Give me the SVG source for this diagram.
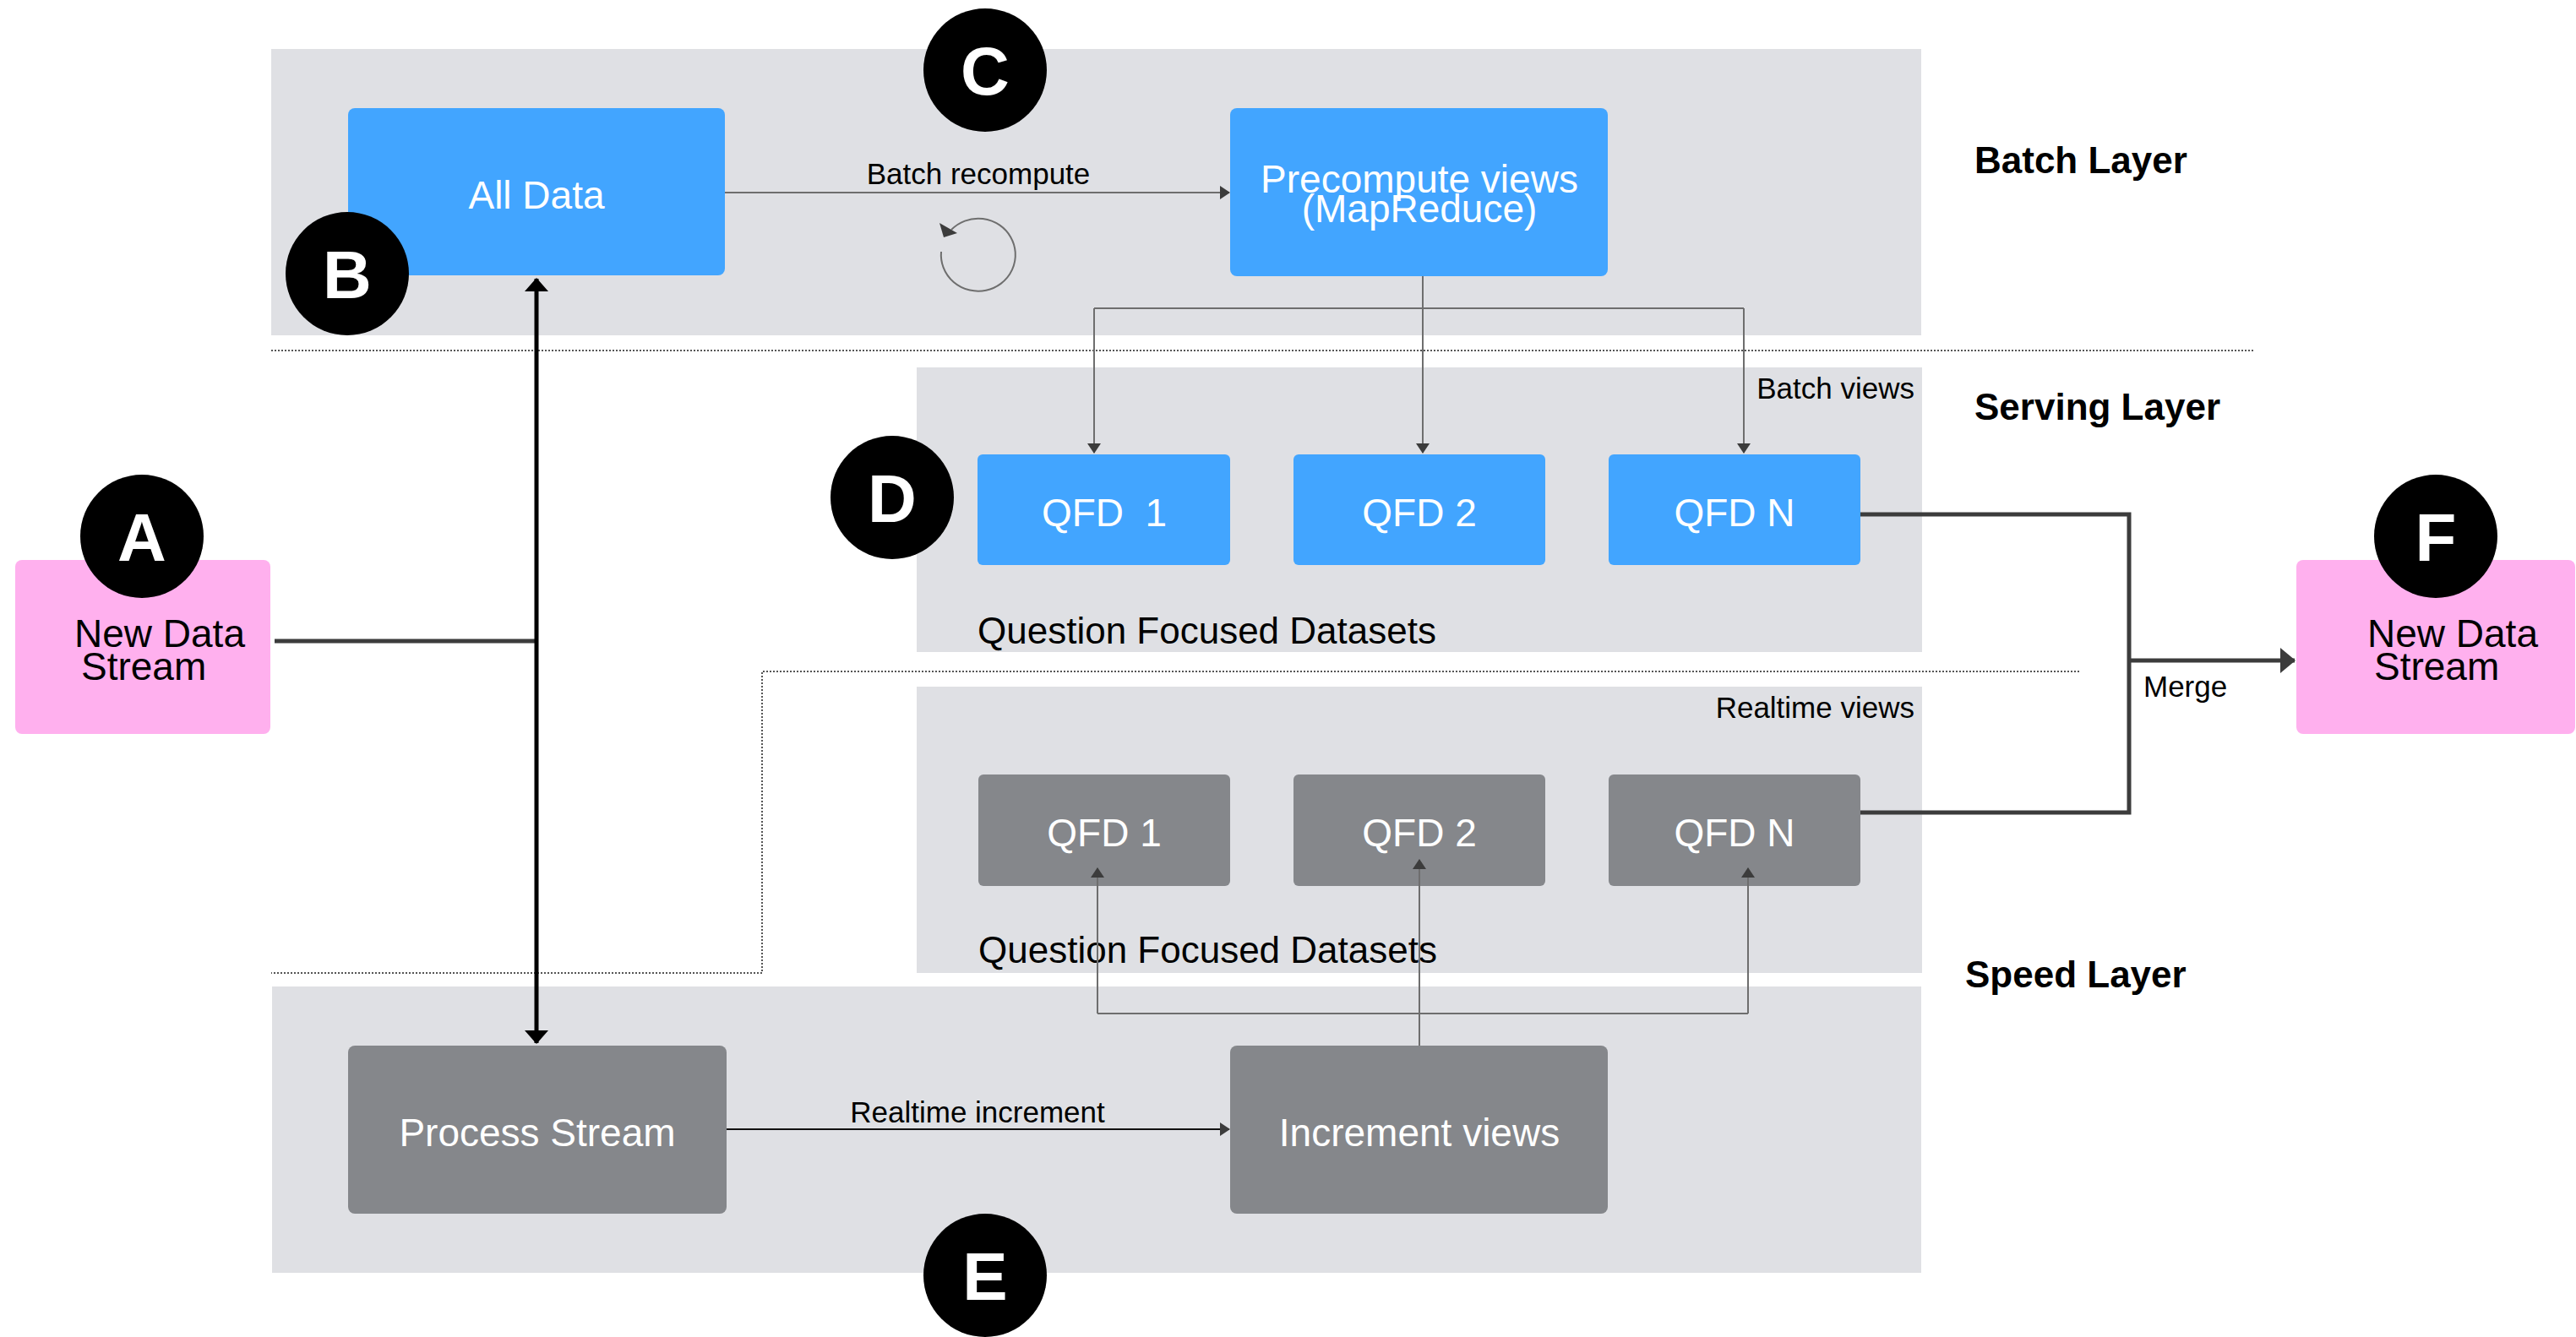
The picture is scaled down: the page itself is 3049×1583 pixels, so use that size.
<svg xmlns="http://www.w3.org/2000/svg" width="3049" height="1583" viewBox="0 0 3049 1583">
<style>
.bg{fill:#dfe0e4}
.blue{fill:#42a5ff}
.gray{fill:#85878b}
.pink{fill:#ffb0ee}
.badge{fill:#000}
.bl{font-family:"Liberation Sans",Arial,sans-serif;font-weight:bold;font-size:80px;fill:#fff;text-anchor:middle}
.nt{font-family:"Liberation Sans",Arial,sans-serif;font-size:46px;fill:#fff;text-anchor:middle}
.pt{font-family:"Liberation Sans",Arial,sans-serif;font-size:46px;fill:#000}
.qt{font-family:"Liberation Sans",Arial,sans-serif;font-size:44px;fill:#000}
.ct{font-family:"Liberation Sans",Arial,sans-serif;font-size:35px;fill:#000}
.lt{font-family:"Liberation Sans",Arial,sans-serif;font-weight:bold;font-size:44px;fill:#000}
.thin{fill:none;stroke:#6e6e6e;stroke-width:2}
.thick{fill:none;stroke:#3c3c3c;stroke-width:5}
.dot{fill:none;stroke:#555;stroke-width:2;stroke-dasharray:2 2}
</style>
<defs>
<marker id="sm" markerWidth="12" markerHeight="16" refX="11" refY="8" orient="auto" markerUnits="userSpaceOnUse">
<path d="M0,0 L12,8 L0,16 Z" fill="#3c3c3c"/>
</marker>
<marker id="big" markerWidth="18" markerHeight="30" refX="17" refY="15" orient="auto" markerUnits="userSpaceOnUse">
<path d="M0,0 L18,15 L0,30 Z" fill="#3c3c3c"/>
</marker>
<marker id="blk" markerWidth="16" markerHeight="28" refX="15" refY="14" orient="auto-start-reverse" markerUnits="userSpaceOnUse">
<path d="M0,0 L16,14 L0,28 Z" fill="#000"/>
</marker>
</defs>
<rect width="3049" height="1583" fill="#fff"/>

<g id="layers">
<rect class="bg" x="321" y="58" width="1953" height="339"/>
<rect class="bg" x="1085" y="435" width="1190" height="337"/>
<rect class="bg" x="1085" y="813" width="1190" height="339"/>
<rect class="bg" x="322" y="1168" width="1952" height="339"/>
<path class="dot" d="M321,415 H2669"/>
<path class="dot" d="M2461,795 H902 V1152 H321"/>
<text class="lt" x="2337" y="205">Batch Layer</text>
<text class="lt" x="2337" y="497">Serving Layer</text>
<text class="lt" x="2326" y="1169">Speed Layer</text>
<text class="qt" x="1157" y="762">Question Focused Datasets</text>
<text class="qt" x="1158" y="1140">Question Focused Datasets</text>
<text class="ct" x="2266" y="472" text-anchor="end">Batch views</text>
<text class="ct" x="2266" y="850" text-anchor="end">Realtime views</text>
</g>

<g id="nodeA">
<rect class="pink" x="18" y="663" width="302" height="206" rx="8"/>
<text class="pt" x="88" y="766">New Data</text>
<text class="pt" x="96" y="805">Stream</text>
</g>
<g id="nodeAllData">
<rect class="blue" x="412" y="128" width="446" height="198" rx="8"/>
<text class="nt" x="635" y="247">All Data</text>
</g>
<g id="nodePrecompute">
<rect class="blue" x="1456" y="128" width="447" height="199" rx="8"/>
<text class="nt" x="1680" y="228">Precompute views</text>
<text class="nt" x="1680" y="263">(MapReduce)</text>
</g>
<g id="nodeSQ1">
<rect class="blue" x="1157" y="538" width="299" height="131" rx="6"/>
<text class="nt" x="1307" y="623" xml:space="preserve">QFD  1</text>
</g>
<g id="nodeSQ2">
<rect class="blue" x="1531" y="538" width="298" height="131" rx="6"/>
<text class="nt" x="1680" y="623">QFD 2</text>
</g>
<g id="nodeSQN">
<rect class="blue" x="1904" y="538" width="298" height="131" rx="6"/>
<text class="nt" x="2053" y="623">QFD N</text>
</g>
<g id="nodeRQ1">
<rect class="gray" x="1158" y="917" width="298" height="132" rx="6"/>
<text class="nt" x="1307" y="1002">QFD 1</text>
</g>
<g id="nodeRQ2">
<rect class="gray" x="1531" y="917" width="298" height="132" rx="6"/>
<text class="nt" x="1680" y="1002">QFD 2</text>
</g>
<g id="nodeRQN">
<rect class="gray" x="1904" y="917" width="298" height="132" rx="6"/>
<text class="nt" x="2053" y="1002">QFD N</text>
</g>
<g id="nodeProcess">
<rect class="gray" x="412" y="1238" width="448" height="199" rx="8"/>
<text class="nt" x="636" y="1357">Process Stream</text>
</g>
<g id="nodeIncrement">
<rect class="gray" x="1456" y="1238" width="447" height="199" rx="8"/>
<text class="nt" x="1680" y="1357">Increment views</text>
</g>
<g id="nodeF">
<rect class="pink" x="2718" y="663" width="330" height="206" rx="8"/>
<text class="pt" x="2802" y="766">New Data</text>
<text class="pt" x="2810" y="805">Stream</text>
</g>

<g id="connectors">
<path class="thick" d="M325,759 H635"/>
<path d="M635,330 V1235" fill="none" stroke="#000" stroke-width="5" marker-start="url(#blk)" marker-end="url(#blk)"/>
<path class="thin" d="M858,228 H1455" marker-end="url(#sm)"/>
<path class="thin" d="M1114,298 A44,43 0 1,0 1126,272"/>
<polygon points="1112,264 1133,276 1117,281" fill="#3c3c3c"/>
<path class="thin" d="M1684,327 V536" marker-end="url(#sm)"/>
<path class="thin" d="M1295,365 H2064"/>
<path class="thin" d="M1295,365 V536" marker-end="url(#sm)"/>
<path class="thin" d="M2064,365 V536" marker-end="url(#sm)"/>
<path d="M860,1337 H1455" fill="none" stroke="#111" stroke-width="2" marker-end="url(#sm)"/>
<path class="thin" d="M1680,1238 V1018" marker-end="url(#sm)"/>
<path class="thin" d="M1299,1200 H2069"/>
<path class="thin" d="M1299,1200 V1028" marker-end="url(#sm)"/>
<path class="thin" d="M2069,1200 V1028" marker-end="url(#sm)"/>
<path class="thick" d="M2202,609 H2520 V962 H2202"/>
<path class="thick" d="M2520,782 H2716" marker-end="url(#big)"/>
<text class="ct" x="1158" y="218" text-anchor="middle">Batch recompute</text>
<text class="ct" x="1157" y="1329" text-anchor="middle">Realtime increment</text>
<text class="ct" x="2537" y="825">Merge</text>
</g>

<g id="badgeA"><circle class="badge" cx="168" cy="635" r="73"/><text class="bl" x="168" y="664">A</text></g>
<g id="badgeB"><circle class="badge" cx="411" cy="324" r="73"/><text class="bl" x="411" y="353">B</text></g>
<g id="badgeC"><circle class="badge" cx="1166" cy="83" r="73"/><text class="bl" x="1166" y="112">C</text></g>
<g id="badgeD"><circle class="badge" cx="1056" cy="589" r="73"/><text class="bl" x="1056" y="618">D</text></g>
<g id="badgeE"><circle class="badge" cx="1166" cy="1510" r="73"/><text class="bl" x="1166" y="1539">E</text></g>
<g id="badgeF"><circle class="badge" cx="2883" cy="635" r="73"/><text class="bl" x="2883" y="664">F</text></g>
</svg>
